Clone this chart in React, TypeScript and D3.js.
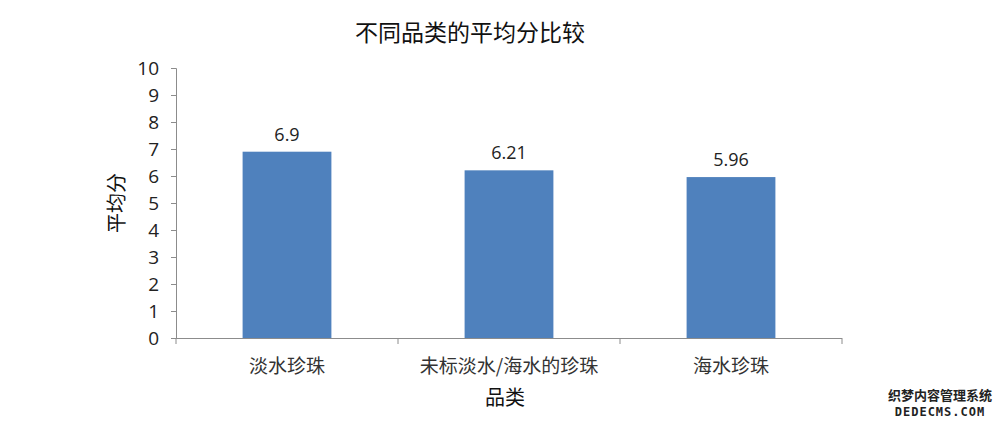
import React, { useRef, useEffect } from 'react'
import * as d3 from 'd3'

const categories = ['淡水珍珠', '未标淡水/海水的珍珠', '海水珍珠']
const values = [6.9, 6.21, 5.96]
const yTicks = [0, 1, 2, 3, 4, 5, 6, 7, 8, 9, 10]

const W = 1000
const H = 426

const App = () => {
  const svgRef = useRef<SVGSVGElement>(null)

  useEffect(() => {
    const svg = d3.select(svgRef.current)
    svg.selectAll('*').remove()

    const margin = { top: 68, right: 158, bottom: 88, left: 176 }
    const width = W - margin.left - margin.right
    const height = H - margin.top - margin.bottom
    const axisColor = '#8c8c8c'
    const font = '"Noto Sans CJK SC", "Open Sans", sans-serif'

    const x = d3
      .scaleBand()
      .domain(categories)
      .range([0, width])
      .paddingInner(0.6)
      .paddingOuter(0.3)

    const y = d3.scaleLinear().domain([0, 10]).range([height, 0])

    svg
      .append('rect')
      .attr('width', W)
      .attr('height', H)
      .attr('fill', '#ffffff')

    const g = svg
      .append('g')
      .attr('transform', `translate(${margin.left},${margin.top})`)

    // bars
    g.selectAll('.bar')
      .data(values)
      .enter()
      .append('rect')
      .attr('x', (_, i) => x(categories[i]))
      .attr('y', (d) => y(d))
      .attr('width', x.bandwidth())
      .attr('height', (d) => height - y(d))
      .attr('fill', '#4f81bd')

    // value labels
    g.selectAll('.val')
      .data(values)
      .enter()
      .append('text')
      .attr('x', (_, i) => x(categories[i]) + x.bandwidth() / 2)
      .attr('y', (d) => y(d) - 11)
      .attr('text-anchor', 'middle')
      .attr('font-family', '"Open Sans", sans-serif')
      .attr('font-size', 18)
      .attr('fill', '#222')
      .text((d) => String(d))

    // y axis
    const yAxis = d3
      .axisLeft(y)
      .tickValues(yTicks)
      .tickSize(5)
      .tickPadding(12)
      .tickFormat((d) => String(d))
    const ya = g.append('g').call(yAxis)
    ya.selectAll('path, line').attr('stroke', axisColor)
    ya.select('.domain').attr('d', `M-5,0.5H0.5V${height}`)
    ya.selectAll('text')
      .attr('font-family', '"Open Sans", sans-serif')
      .attr('font-size', 19)
      .attr('fill', '#222')

    // x axis
    const xa = g.append('g').attr('transform', `translate(0,${height})`)
    xa.append('line')
      .attr('x1', 0)
      .attr('x2', width)
      .attr('y1', 0.5)
      .attr('y2', 0.5)
      .attr('stroke', axisColor)
    const step = x.step()
    const bounds = d3.range(categories.length + 1).map((i) => i * step)
    xa.selectAll('.tick')
      .data(bounds)
      .enter()
      .append('line')
      .attr('x1', (d) => d)
      .attr('x2', (d) => d)
      .attr('y1', 0)
      .attr('y2', 6)
      .attr('stroke', axisColor)
    xa.selectAll('.lab')
      .data(categories)
      .enter()
      .append('text')
      .attr('x', (d) => x(d) + x.bandwidth() / 2)
      .attr('y', 35)
      .attr('text-anchor', 'middle')
      .attr('font-family', font)
      .attr('font-size', 19)
      .attr('fill', '#333')
      .text((d) => d)

    // title
    svg
      .append('text')
      .attr('x', 470)
      .attr('y', 41)
      .attr('text-anchor', 'middle')
      .attr('font-family', font)
      .attr('font-size', 23)
      .attr('fill', '#111')
      .text('不同品类的平均分比较')

    // axis titles
    svg
      .append('text')
      .attr('transform', `translate(124,${margin.top + height / 2}) rotate(-90)`)
      .attr('text-anchor', 'middle')
      .attr('font-family', font)
      .attr('font-size', 20)
      .attr('fill', '#111')
      .text('平均分')

    svg
      .append('text')
      .attr('x', 505)
      .attr('y', 405)
      .attr('text-anchor', 'middle')
      .attr('font-family', font)
      .attr('font-size', 20)
      .attr('fill', '#111')
      .text('品类')

    // watermark
    svg
      .append('text')
      .attr('x', 940)
      .attr('y', 400)
      .attr('text-anchor', 'middle')
      .attr('font-family', font)
      .attr('font-size', 13)
      .attr('font-weight', 'bold')
      .attr('fill', '#222')
      .text('织梦内容管理系统')
    svg
      .append('text')
      .attr('x', 940)
      .attr('y', 416)
      .attr('text-anchor', 'middle')
      .attr('font-family', '"DejaVu Sans Mono", monospace')
      .attr('font-size', 12)
      .attr('font-weight', 'bold')
      .attr('letter-spacing', 1)
      .attr('fill', '#222')
      .text('DEDECMS.COM')
  }, [])

  return (
    <svg
      ref={svgRef}
      width={W}
      height={H}
      style={{ position: 'absolute', left: 0, top: 0, display: 'block' }}
    />
  )
}

export default App
